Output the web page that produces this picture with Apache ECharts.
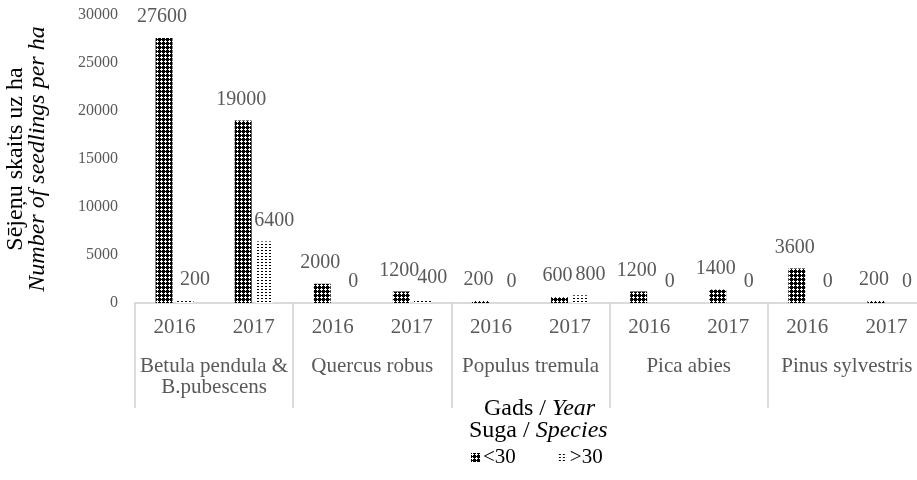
<!DOCTYPE html>
<html>
<head>
<meta charset="utf-8">
<script src="https://cdn.jsdelivr.net/npm/echarts@6/dist/echarts.min.js"></script>
<style>
  html, body { margin: 0; padding: 0; background: #fff; }
  #chart { width: 917px; height: 480px; }
</style>
</head>
<body>
<div id="chart"></div>
<script>
const years = ["2016", "2017", "2016", "2017", "2016", "2017", "2016", "2017", "2016", "2017"];
const species = ["Betula pendula &\nB.pubescens", "Quercus robus", "Populus tremula", "Pica abies", "Pinus sylvestris"];
const under30 = [27600, 19000, 2000, 1200, 200, 600, 1200, 1400, 3600, 200];
const over30 = [200, 6400, 0, 400, 0, 800, 0, 0, 0, 0];
const seriesNames = ["<30", ">30"];

const FONT = "'Liberation Serif', 'Times New Roman', serif";

// small repeating tiles that mimic the Excel fill patterns
function makePattern(kind) {
  const c = document.createElement("canvas");
  const ctx = c.getContext("2d");
  if (kind === "dark") {
    c.width = 4;
    c.height = 4;
    ctx.fillStyle = "#000";
    ctx.fillRect(0, 0, 4, 4);
    ctx.fillStyle = "#fff";
    ctx.fillRect(1, 0, 1, 1);
    ctx.fillRect(0, 1, 3, 1);
    ctx.fillRect(1, 2, 1, 1);
  } else {
    c.width = 4;
    c.height = 3;
    ctx.fillStyle = "#fff";
    ctx.fillRect(0, 0, 4, 3);
    ctx.fillStyle = "#000";
    ctx.fillRect(1, 1, 2, 1);
  }
  return { image: c, repeat: "repeat" };
}

const darkFill = makePattern("dark");
const lightFill = makePattern("light");

const chart = echarts.init(document.getElementById("chart"));

const labelStyle = {
  show: true,
  position: "top",
  distance: 11,
  color: "#595959",
  fontFamily: FONT,
  fontSize: 20,
};

const titleRich = {
  a: { fontFamily: FONT, fontSize: 24, fill: "#000" },
  b: { fontFamily: FONT, fontSize: 24, fontStyle: "italic", fill: "#000" },
};

chart.setOption({
  animation: false,
  textStyle: { fontFamily: FONT },
  grid: {
    left: 135,
    top: 15,
    width: 791,
    bottom: 177,
    containLabel: false,
    outerBoundsMode: "none",
  },
  legend: {
    data: seriesNames,
    left: 466,
    top: 442,
    icon: "rect",
    itemWidth: 9,
    itemHeight: 9,
    itemGap: 42,
    textStyle: { color: "#000", fontFamily: FONT, fontSize: 21, padding: [0, 0, 0, -2] },
  },
  graphic: [
    {
      type: "text",
      left: 484,
      top: 397,
      style: { text: "{a|Gads / }{b|Year}", rich: titleRich },
    },
    {
      type: "text",
      left: 469,
      top: 419,
      style: { text: "{a|Suga / }{b|Species}", rich: titleRich },
    },
  ],
  xAxis: [
    {
      type: "category",
      data: years,
      position: "bottom",
      axisLine: { show: true, lineStyle: { color: "#d0d0d0", width: 1.5 } },
      axisTick: { show: false },
      axisLabel: { color: "#595959", fontSize: 21, margin: 14, interval: 0 },
    },
    {
      type: "category",
      data: species,
      position: "bottom",
      axisLine: { show: false },
      axisTick: { show: true, length: 105, interval: 0, lineStyle: { color: "#d0d0d0", width: 1.5 } },
      axisLabel: { color: "#595959", fontSize: 21, lineHeight: 21, margin: 53, interval: 0 },
    },
  ],
  yAxis: {
    type: "value",
    min: 0,
    max: 30000,
    interval: 5000,
    name: "{a|Sējeņu skaits uz ha}\n{b|Number of seedlings per ha}",
    nameLocation: "middle",
    nameRotate: 90,
    nameGap: 86,
    nameTextStyle: {
      rich: {
        a: { fontFamily: FONT, fontSize: 24, color: "#000", lineHeight: 22 },
        b: { fontFamily: FONT, fontSize: 24, color: "#000", fontStyle: "italic", lineHeight: 22 },
      },
    },
    axisLine: { show: false },
    axisTick: { show: false },
    splitLine: { show: false },
    axisLabel: { color: "#595959", fontSize: 16, margin: 17, formatter: (v) => String(v) },
  },
  series: [
    {
      name: seriesNames[0],
      type: "bar",
      data: under30,
      barGap: "24%",
      barCategoryGap: "52%",
      itemStyle: { color: darkFill },
      label: { ...labelStyle, offset: [-2, 0] },
    },
    {
      name: seriesNames[1],
      type: "bar",
      data: over30,
      itemStyle: { color: lightFill },
      label: { ...labelStyle, offset: [10, 0] },
    },
  ],
});
</script>
</body>
</html>
